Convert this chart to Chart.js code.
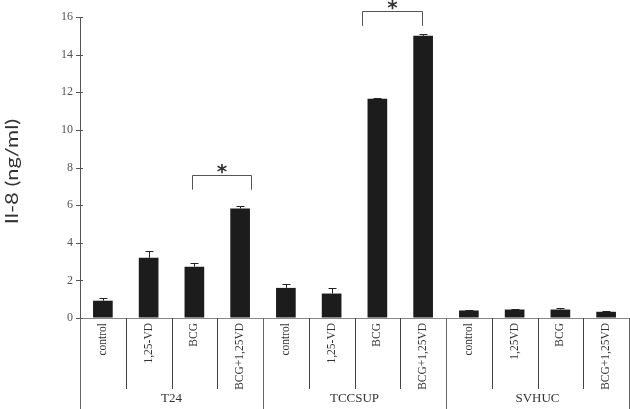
<!DOCTYPE html>
<html>
<head>
<meta charset="utf-8">
<script src="https://cdn.jsdelivr.net/npm/chart.js@4.4.0/dist/chart.umd.min.js"></script>
<style>
  html, body { margin: 0; padding: 0; background: #fff; }
  #wrap { width: 630px; height: 409px; }
</style>
</head>
<body>
<div id="wrap"><canvas id="il8Chart" width="630" height="409"></canvas></div>
<script>
// categories under the x axis, three cell lines of four treatments each
const categories = ['control', '1,25-VD', 'BCG', 'BCG+1,25VD',
                    'control', '1,25-VD', 'BCG', 'BCG+1,25VD',
                    'control', '1,25VD', 'BCG', 'BCG+1,25VD'];
const groups = ['T24', 'TCCSUP', 'SVHUC'];
const groupSize = 4;

// IL-8 (ng/ml) means and error (upper half of the bar)
const values = [0.92, 3.2, 2.73, 5.82, 1.6, 1.3, 11.65, 15.0, 0.4, 0.45, 0.45, 0.33];
const errors = [0.14, 0.35, 0.22, 0.15, 0.23, 0.28, 0.06, 0.08, 0.04, 0.03, 0.07, 0.04];

const yTicks = [0, 2, 4, 6, 8, 10, 12, 14, 16];
const yTitle = 'Il-8 (ng/ml)';

// significance brackets: ends in category units (from bar centres), heights in ng/ml
const bracketFrom = [1.94, 5.67];
const bracketTo = [3.24, 6.98];
const bracketTop = [7.6, 16.3];
const bracketFoot = [6.82, 15.53];

const overlay = {
  id: 'overlay',
  afterDatasetsDraw(chart) {
    const ctx = chart.ctx;
    const x = chart.scales.x;
    const y = chart.scales.y;
    const catW = x.getPixelForValue(1) - x.getPixelForValue(0);
    const c0 = x.getPixelForValue(0);
    const x0 = c0 - catW / 2;
    const base = y.getPixelForValue(0);
    ctx.save();

    // error bars
    ctx.strokeStyle = '#222';
    ctx.lineWidth = 1;
    values.forEach((v, i) => {
      const cx = Math.round(x.getPixelForValue(i)) + 0.5;
      const yt = y.getPixelForValue(v);
      const ye = Math.round(y.getPixelForValue(v + errors[i])) + 0.5;
      ctx.beginPath();
      ctx.moveTo(cx, yt);
      ctx.lineTo(cx, ye);
      ctx.moveTo(cx - 4, ye);
      ctx.lineTo(cx + 4, ye);
      ctx.stroke();
    });

    // y tick marks crossing the axis
    ctx.strokeStyle = '#555';
    yTicks.forEach(t => {
      const py = Math.round(y.getPixelForValue(t)) + 0.5;
      ctx.beginPath();
      ctx.moveTo(x0 - 4, py);
      ctx.lineTo(x0 + 3, py);
      ctx.stroke();
    });

    // separators under the axis
    for (let i = 0; i <= categories.length; i++) {
      const px = Math.round(x0 + i * catW) + 0.5;
      const isGroup = i % groupSize === 0;
      ctx.strokeStyle = isGroup ? '#666' : '#444';
      ctx.beginPath();
      ctx.moveTo(px, base);
      ctx.lineTo(px, isGroup ? chart.height : base + 71);
      ctx.stroke();
    }

    // category labels, reading upwards, top end near the axis
    ctx.fillStyle = '#333';
    ctx.font = '11.5px "Liberation Serif"';
    ctx.textAlign = 'right';
    ctx.textBaseline = 'middle';
    categories.forEach((c, i) => {
      ctx.save();
      ctx.translate(x.getPixelForValue(i), base + 5);
      ctx.rotate(-Math.PI / 2);
      ctx.fillText(c, 0, 0);
      ctx.restore();
    });

    // group labels
    ctx.font = '13px "Liberation Serif"';
    ctx.textAlign = 'center';
    groups.forEach((g, k) => {
      const cx = x0 + (k + 0.5) * groupSize * catW;
      ctx.fillText(g, cx, base + 81);
    });

    // y axis title
    ctx.save();
    ctx.translate(12, (y.top + y.bottom) / 2 + 4);
    ctx.rotate(-Math.PI / 2);
    ctx.scale(1.22, 1);
    ctx.font = '18px Lato';
    ctx.fillStyle = '#333';
    ctx.fillText(yTitle, 0, 0);
    ctx.restore();

    // significance brackets
    ctx.strokeStyle = '#555';
    ctx.font = 'bold 20px "DejaVu Sans"';
    bracketFrom.forEach((f, k) => {
      const xa = Math.round(c0 + f * catW) + 0.5;
      const xb = Math.round(c0 + bracketTo[k] * catW) + 0.5;
      const yt = Math.round(y.getPixelForValue(bracketTop[k])) + 0.5;
      const yf = y.getPixelForValue(bracketFoot[k]);
      ctx.beginPath();
      ctx.moveTo(xa, yf);
      ctx.lineTo(xa, yt);
      ctx.lineTo(xb, yt);
      ctx.lineTo(xb, yf);
      ctx.stroke();
      ctx.fillText('*', (xa + xb) / 2, yt - 3);
    });

    ctx.restore();
  }
};

new Chart(document.getElementById('il8Chart'), {
  type: 'bar',
  data: {
    labels: categories,
    datasets: [{
      data: values,
      backgroundColor: '#1c1c1c',
      borderWidth: 0,
      categoryPercentage: 1,
      barPercentage: 0.43
    }]
  },
  options: {
    responsive: false,
    animation: false,
    layout: { padding: { top: 17, right: 1, left: 0, bottom: 0 } },
    plugins: { legend: { display: false }, tooltip: { enabled: false } },
    scales: {
      x: {
        afterFit(scale) { scale.height = 91; },
        grid: { display: false },
        border: { color: '#888' },
        ticks: { display: false }
      },
      y: {
        min: 0,
        max: 16,
        afterFit(scale) { scale.width = 80; },
        grid: { drawOnChartArea: false, drawTicks: false },
        border: { color: '#555' },
        ticks: {
          stepSize: 2,
          padding: 7,
          color: '#555',
          font: { family: 'Liberation Serif', size: 12 }
        }
      }
    }
  },
  plugins: [overlay]
});
</script>
</body>
</html>
